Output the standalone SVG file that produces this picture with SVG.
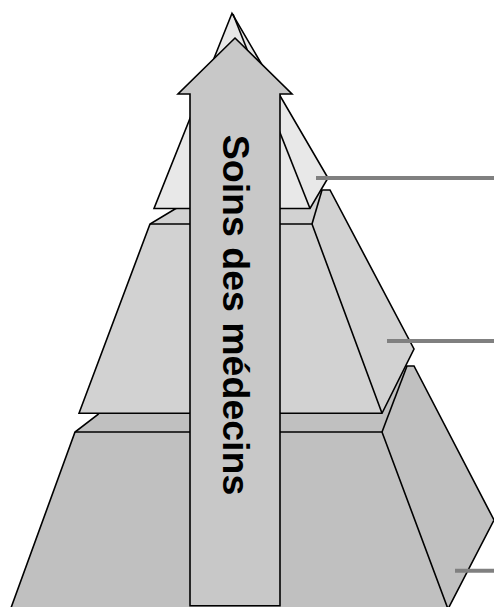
<svg xmlns="http://www.w3.org/2000/svg" width="494" height="607" viewBox="0 0 494 607">
  <style>
    .edge { stroke: #000; stroke-width: 1.6; stroke-linejoin: miter; fill: none; }
    .tier { stroke: #000; stroke-width: 1.6; stroke-linejoin: miter; }
    .t1 { fill: #e8e8e8; }
    .t2 { fill: #d2d2d2; }
    .t3 { fill: #c0c0c0; }
    .leader { stroke: #808080; stroke-width: 4; fill: none; }
    .arrow { fill: #c8c8c8; stroke: #000; stroke-width: 1.6; }
    .label { font-family: "Liberation Sans", Arial, sans-serif; font-weight: bold; font-size: 37.5px; fill: #000; }
  </style>
  <rect width="494" height="607" fill="#fff"/>

  <!-- bottom tier -->
  <g id="tier-bottom">
    <polygon class="tier t3" points="10.6,609 75,432 98,414.5 105,405 407,366 414,366 494,520 448,609"/>
    <polyline class="edge" points="75,432 382,432 448,609"/>
    <line class="edge" x1="382" y1="432" x2="407" y2="366"/>
  </g>

  <!-- middle tier -->
  <g id="tier-middle">
    <polygon class="tier t2" points="79,413.3 150,224 175,209 200,196 300,190 322,190 330,190 414,349 382,413.3"/>
    <polyline class="edge" points="150,224 312,224 382,413.3"/>
    <line class="edge" x1="312" y1="224" x2="322" y2="190"/>
  </g>

  <!-- top tier -->
  <g id="tier-top">
    <polygon class="tier t1" points="232,13.3 328,178 310,208.5 154,208.5"/>
    <line class="edge" x1="233" y1="14" x2="310" y2="208.5"/>
  </g>

  <!-- leader lines to the right -->
  <g id="connectors">
    <line class="leader" x1="316" y1="178" x2="494" y2="178"/>
    <line class="leader" x1="387" y1="341" x2="494" y2="341"/>
    <line class="leader" x1="455" y1="570.7" x2="494" y2="570.7"/>
  </g>

  <!-- upward arrow with vertical label -->
  <g id="arrow">
    <polygon class="arrow" points="235,38 292,94 280,94 280,605.7 190,605.7 190,94 178,94"/>
    <text class="label" transform="translate(222.5,315) rotate(90)" text-anchor="middle">Soins des médecins</text>
  </g>
</svg>
